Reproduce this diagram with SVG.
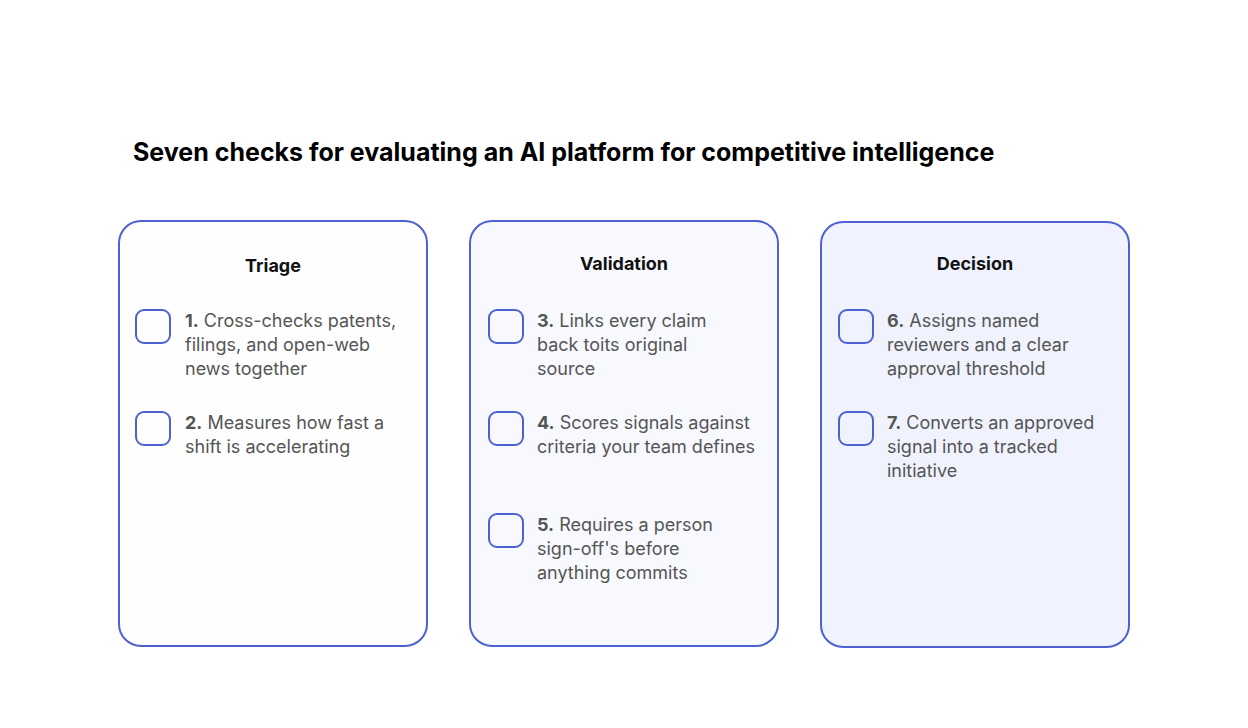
<svg xmlns="http://www.w3.org/2000/svg" width="1248" height="728" viewBox="0 0 1248 728">
<style>
.panel{stroke:#4d62d0;stroke-width:2}
.cb{fill:none;stroke:#4d62d0;stroke-width:2}
.h{font-family:Inter,"Liberation Sans",sans-serif;font-weight:700;font-size:18px;fill:#111;text-anchor:middle}
.t{font-family:Inter,"Liberation Sans",sans-serif;font-size:18px;fill:#555}
.t tspan.b{font-weight:700}
.title{font-family:Inter,"Liberation Sans",sans-serif;font-weight:700;font-size:25px;fill:#000}
</style>
<rect width="1248" height="728" fill="#fff"/>
<text class="title" x="133" y="161">Seven checks for evaluating an AI platform for competitive intelligence</text>
<g id="triage">
<rect class="panel" x="119" y="221" width="308" height="425" rx="22" fill="#fefefe"/>
<text class="h" x="273" y="272">Triage</text>
<rect class="cb" x="136" y="310" width="34" height="33" rx="8"/>
<text class="t" x="185" y="327"><tspan class="b">1.</tspan> Cross-checks patents,<tspan x="185" dy="24">filings, and open-web</tspan><tspan x="185" dy="24">news together</tspan></text>
<rect class="cb" x="136" y="412" width="34" height="33" rx="8"/>
<text class="t" x="185" y="429"><tspan class="b">2.</tspan> Measures how fast a<tspan x="185" dy="24">shift is accelerating</tspan></text>
</g>
<g id="validation">
<rect class="panel" x="470" y="221" width="308" height="425" rx="22" fill="#f8f9fe"/>
<text class="h" x="624" y="270">Validation</text>
<rect class="cb" x="489" y="310" width="34" height="33" rx="8"/>
<text class="t" x="537" y="327"><tspan class="b">3.</tspan> Links every claim<tspan x="537" dy="24">back toits original</tspan><tspan x="537" dy="24">source</tspan></text>
<rect class="cb" x="489" y="412" width="34" height="33" rx="8"/>
<text class="t" x="537" y="429"><tspan class="b">4.</tspan> Scores signals against<tspan x="537" dy="24">criteria your team defines</tspan></text>
<rect class="cb" x="489" y="514" width="34" height="33" rx="8"/>
<text class="t" x="537" y="531"><tspan class="b">5.</tspan> Requires a person<tspan x="537" dy="24">sign-off's before</tspan><tspan x="537" dy="24">anything commits</tspan></text>
</g>
<g id="decision">
<rect class="panel" x="821" y="222" width="308" height="425" rx="22" fill="#f0f2fd"/>
<text class="h" x="975" y="270">Decision</text>
<rect class="cb" x="839" y="310" width="34" height="33" rx="8"/>
<text class="t" x="887" y="327"><tspan class="b">6.</tspan> Assigns named<tspan x="887" dy="24">reviewers and a clear</tspan><tspan x="887" dy="24">approval threshold</tspan></text>
<rect class="cb" x="839" y="412" width="34" height="33" rx="8"/>
<text class="t" x="887" y="429"><tspan class="b">7.</tspan> Converts an approved<tspan x="887" dy="24">signal into a tracked</tspan><tspan x="887" dy="24">initiative</tspan></text>
</g>
<g id="connectors"/>
</svg>
